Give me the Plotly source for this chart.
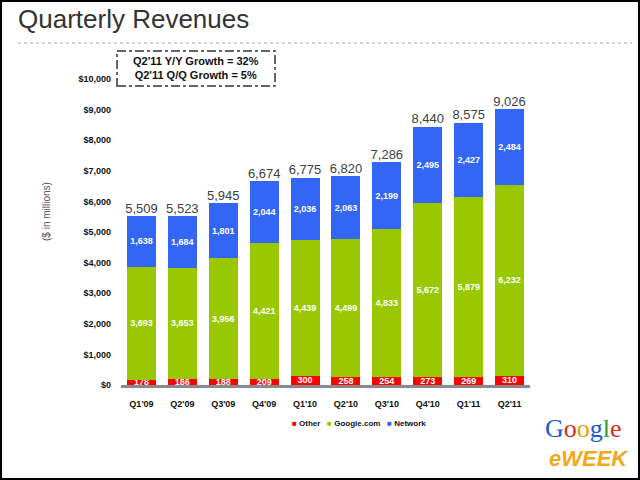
import plotly.graph_objects as go

quarters = ["Q1'09", "Q2'09", "Q3'09", "Q4'09", "Q1'10", "Q2'10", "Q3'10", "Q4'10", "Q1'11", "Q2'11"]
other = [178, 186, 188, 209, 300, 258, 254, 273, 269, 310]
google_com = [3693, 3653, 3956, 4421, 4439, 4499, 4833, 5672, 5879, 6232]
network = [1638, 1684, 1801, 2044, 2036, 2063, 2199, 2495, 2427, 2484]
totals = [5509, 5523, 5945, 6674, 6775, 6820, 7286, 8440, 8575, 9026]
series_names = ["Other", "Google.com", "Network"]
series_colors = ["#FF0000", "#99C800", "#3366F5"]

FONT = "Liberation Sans, Arial, sans-serif"

# plot area in pixels
L, R, T, B = 121, 530, 79, 385
W, H = 640, 480


def px(x):
    return (x - L) / (R - L)


def py(y):
    return (B - y) / (B - T)


fig = go.Figure()
for name, vals, col in zip(series_names, [other, google_com, network], series_colors):
    fig.add_trace(go.Bar(
        x=quarters, y=vals, name=name, marker=dict(color=col, line=dict(width=0)),
        text=[f"{v:,}" for v in vals], textposition="inside", insidetextanchor="middle",
        constraintext="none", cliponaxis=False,
        textfont=dict(family=FONT, size=9, color="white", weight="bold"),
        showlegend=False,
    ))

fig.add_trace(go.Scatter(
    x=quarters, y=totals, mode="text", text=[f"{v:,}" for v in totals],
    textposition="top center", textfont=dict(family=FONT, size=13, color="#404040"),
    showlegend=False, cliponaxis=False,
))

legend_text = "   ".join(
    f"<span style='color:{c}'>■</span> <span style='color:#111'>{n}</span>"
    for n, c in zip(series_names, series_colors)
)

fig.update_layout(
    width=W, height=H,
    margin=dict(l=L, r=W - R, t=T, b=H - B),
    paper_bgcolor="white", plot_bgcolor="white",
    barmode="stack", bargap=0.29,
    title=dict(text="Quarterly Revenues", x=18 / W, xanchor="left", xref="container",
               y=1 - 19 / H, yanchor="middle", yref="container",
               font=dict(family=FONT, size=26, color="#333333")),
    xaxis=dict(showline=True, linecolor="#8a8a8a", linewidth=3, ticks="",
               tickfont=dict(family=FONT, size=9, color="#111", weight="bold"),
               ticklabelstandoff=8, showgrid=False, zeroline=False),
    yaxis=dict(range=[0, 10000], dtick=1000, tickprefix="$", tickformat=",",
               showgrid=False, zeroline=False, showline=False, ticks="",
               tickfont=dict(family=FONT, size=9, color="#111", weight="bold"),
               ticklabelstandoff=9),
    shapes=[
        dict(type="line", xref="paper", yref="paper", x0=px(18), x1=px(632), y0=py(43), y1=py(43),
             line=dict(color="#aaaaaa", width=1, dash="dot")),
        dict(type="rect", xref="paper", yref="paper", x0=px(117), x1=px(275), y0=py(86), y1=py(51),
             line=dict(color="#333333", width=1.5, dash="dashdot")),
        dict(type="rect", xref="paper", yref="paper", x0=px(1), x1=px(639), y0=py(479), y1=py(1),
             line=dict(color="black", width=2)),
    ],
    annotations=[
        dict(text="Q2'11 Y/Y Growth = 32%<br>Q2'11 Q/Q Growth = 5%", xref="paper", yref="paper",
             x=px(196), y=py(68.5), xanchor="center", yanchor="middle", showarrow=False,
             font=dict(family=FONT, size=11, color="#111", weight="bold")),
        dict(text="($ in millions)", xref="paper", yref="paper", x=px(46), y=py(212),
             xanchor="center", yanchor="middle", textangle=-90, showarrow=False,
             font=dict(family=FONT, size=10, color="#555555")),
        dict(text=legend_text, xref="paper", yref="paper", x=px(359), y=py(423),
             xanchor="center", yanchor="middle", showarrow=False,
             font=dict(family=FONT, size=8, color="#111", weight="bold")),
        dict(text="<span style='color:#1a5bd6'>G</span><span style='color:#d62d20'>o</span>"
                  "<span style='color:#e8a300'>o</span><span style='color:#1a5bd6'>g</span>"
                  "<span style='color:#2a9a3a'>l</span><span style='color:#d62d20'>e</span>",
             xref="paper", yref="paper", x=px(583), y=py(428), xanchor="center", yanchor="middle",
             showarrow=False, font=dict(family="Liberation Serif, serif", size=26)),
        dict(text="<i><b>eWEEK</b></i>", xref="paper", yref="paper", x=px(589), y=py(458),
             xanchor="center", yanchor="middle", showarrow=False,
             font=dict(family=FONT, size=22, color="#F2A81C")),
    ],
)

fig.write_html("out.html")
